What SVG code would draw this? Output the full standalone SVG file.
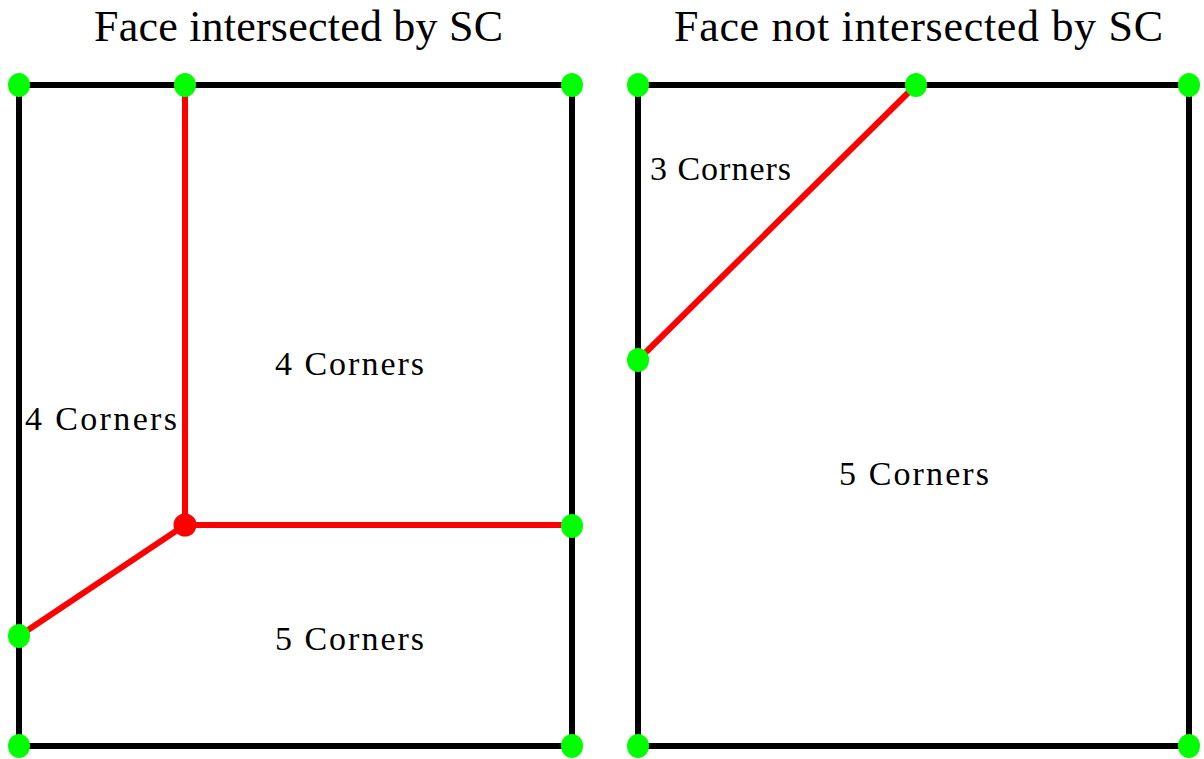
<svg xmlns="http://www.w3.org/2000/svg" width="1204" height="759" viewBox="0 0 1204 759">
<style>
.t{font-family:"Liberation Serif","Times New Roman",serif;fill:#000}
.title{font-size:44px}
.lbl{font-size:34px}
.edge{stroke:#000;stroke-width:6;fill:none}
.sc{stroke:#ff0000;stroke-width:6;fill:none}
.v{fill:#00ff00}
</style>
<rect width="1204" height="759" fill="#fff"/>
<text class="t title" x="94" y="41" textLength="409" lengthAdjust="spacing">Face intersected by SC</text>
<text class="t title" x="674" y="41" textLength="489" lengthAdjust="spacing">Face not intersected by SC</text>
<g id="face-left">
<rect class="edge" x="19" y="85" width="553" height="661"/>
</g>
<g id="face-right">
<rect class="edge" x="638" y="85" width="551" height="661"/>
</g>
<g id="connectors">
<line class="sc" x1="185" y1="85" x2="185" y2="525"/>
<line class="sc" x1="185" y1="525" x2="572" y2="525"/>
<line class="sc" x1="185" y1="525" x2="19" y2="636"/>
<line class="sc" x1="916" y1="85" x2="638" y2="360"/>
</g>
<g id="vertices">
<ellipse class="v" cx="19" cy="85" rx="11" ry="12"/>
<ellipse class="v" cx="185" cy="85" rx="11" ry="12"/>
<ellipse class="v" cx="572" cy="85" rx="11" ry="12"/>
<ellipse class="v" cx="19" cy="636" rx="11" ry="12"/>
<ellipse class="v" cx="572" cy="526" rx="11" ry="12"/>
<ellipse class="v" cx="19" cy="746" rx="11" ry="12"/>
<ellipse class="v" cx="572" cy="746" rx="11" ry="12"/>
<ellipse class="v" cx="638" cy="85" rx="11" ry="12"/>
<ellipse class="v" cx="916" cy="85" rx="11" ry="12"/>
<ellipse class="v" cx="1189" cy="85" rx="11" ry="12"/>
<ellipse class="v" cx="638" cy="360" rx="11" ry="12"/>
<ellipse class="v" cx="638" cy="746" rx="11" ry="12"/>
<ellipse class="v" cx="1189" cy="746" rx="11" ry="12"/>
<circle cx="185" cy="525" r="11.5" fill="#ff0000"/>
</g>
<g id="labels">
<text class="t lbl" x="25" y="430" textLength="152" lengthAdjust="spacing">4  Corners</text>
<text class="t lbl" x="275" y="375" textLength="149" lengthAdjust="spacing">4  Corners</text>
<text class="t lbl" x="275" y="650" textLength="149" lengthAdjust="spacing">5  Corners</text>
<text class="t lbl" x="650" y="180" textLength="141" lengthAdjust="spacing">3 Corners</text>
<text class="t lbl" x="839" y="485" textLength="150" lengthAdjust="spacing">5  Corners</text>
</g>
</svg>
